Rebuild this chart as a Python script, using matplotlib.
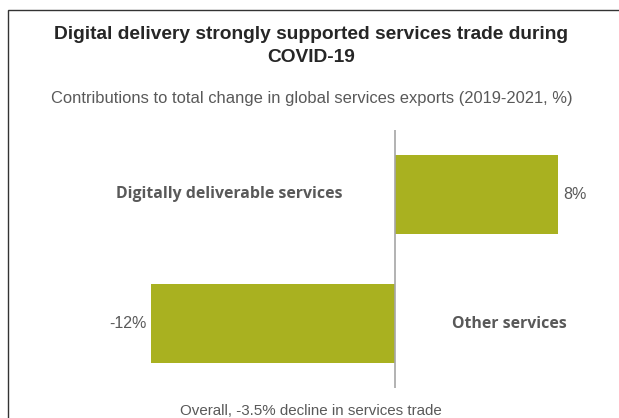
import matplotlib.pyplot as plt
from matplotlib.patches import Rectangle

categories = ['Digitally deliverable services', 'Other services']
values = [8, -12]
value_labels = ['8%', '-12%']

title = 'Digital delivery strongly supported services trade during\nCOVID-19'
subtitle = 'Contributions to total change in global services exports (2019-2021, %)'
note = 'Overall, -3.5% decline in services trade'

W, H = 619, 418
bar_color = '#a9b120'
grey = '#595959'

fig = plt.figure(figsize=(W / 100, H / 100), dpi=100)

def fx(px):
    return px / W

def fy(py):
    return 1 - py / H

# thin frame round the whole chart
fig.patches.append(Rectangle((fx(8), fy(440)), fx(640), 440 / H - 10 / H,
                             transform=fig.transFigure, fill=False,
                             edgecolor='#333333', lw=1.0))

fig.text(fx(311), fy(39), title.split('\n')[0], ha='center', va='baseline',
         fontsize=13.8, fontweight='bold', color='#262626', family='Liberation Sans')
fig.text(fx(311), fy(62), title.split('\n')[1], ha='center', va='baseline',
         fontsize=13.8, fontweight='bold', color='#262626', family='Liberation Sans')
fig.text(fx(312), fy(103), subtitle, ha='center', va='baseline',
         fontsize=11.9, color=grey, family='Liberation Sans')
fig.text(fx(311), fy(415), note, ha='center', va='baseline',
         fontsize=10.9, color=grey, family='Liberation Sans')

ax = fig.add_axes([fx(110), fy(388), fx(509), 258 / H])
ax.set_xlim(-14, 11)
ax.set_ylim(1.5, -0.5)
ax.axis('off')

ypos = list(range(len(categories)))
ax.barh(ypos, values, height=0.615, color=bar_color)
ax.axvline(0, color='#a6a6a6', lw=1.2)

for y, v, lab, cat in zip(ypos, values, value_labels, categories):
    if v >= 0:
        ax.annotate(lab, (v, y), xytext=(4, 0), textcoords='offset points',
                    ha='left', va='center', fontsize=11.5, color=grey, family='Liberation Sans')
        ax.annotate(cat, (0, y), xytext=(-38, 0), textcoords='offset points',
                    ha='right', va='center', fontsize=11.4, fontweight='bold',
                    color=grey, family='Open Sans')
    else:
        ax.annotate(lab, (v, y), xytext=(-3, 0), textcoords='offset points',
                    ha='right', va='center', fontsize=11.5, color=grey, family='Liberation Sans')
        ax.annotate(cat, (0, y), xytext=(41, 0), textcoords='offset points',
                    ha='left', va='center', fontsize=11.4, fontweight='bold',
                    color=grey, family='Open Sans')

fig.savefig('out.png', dpi=100)
